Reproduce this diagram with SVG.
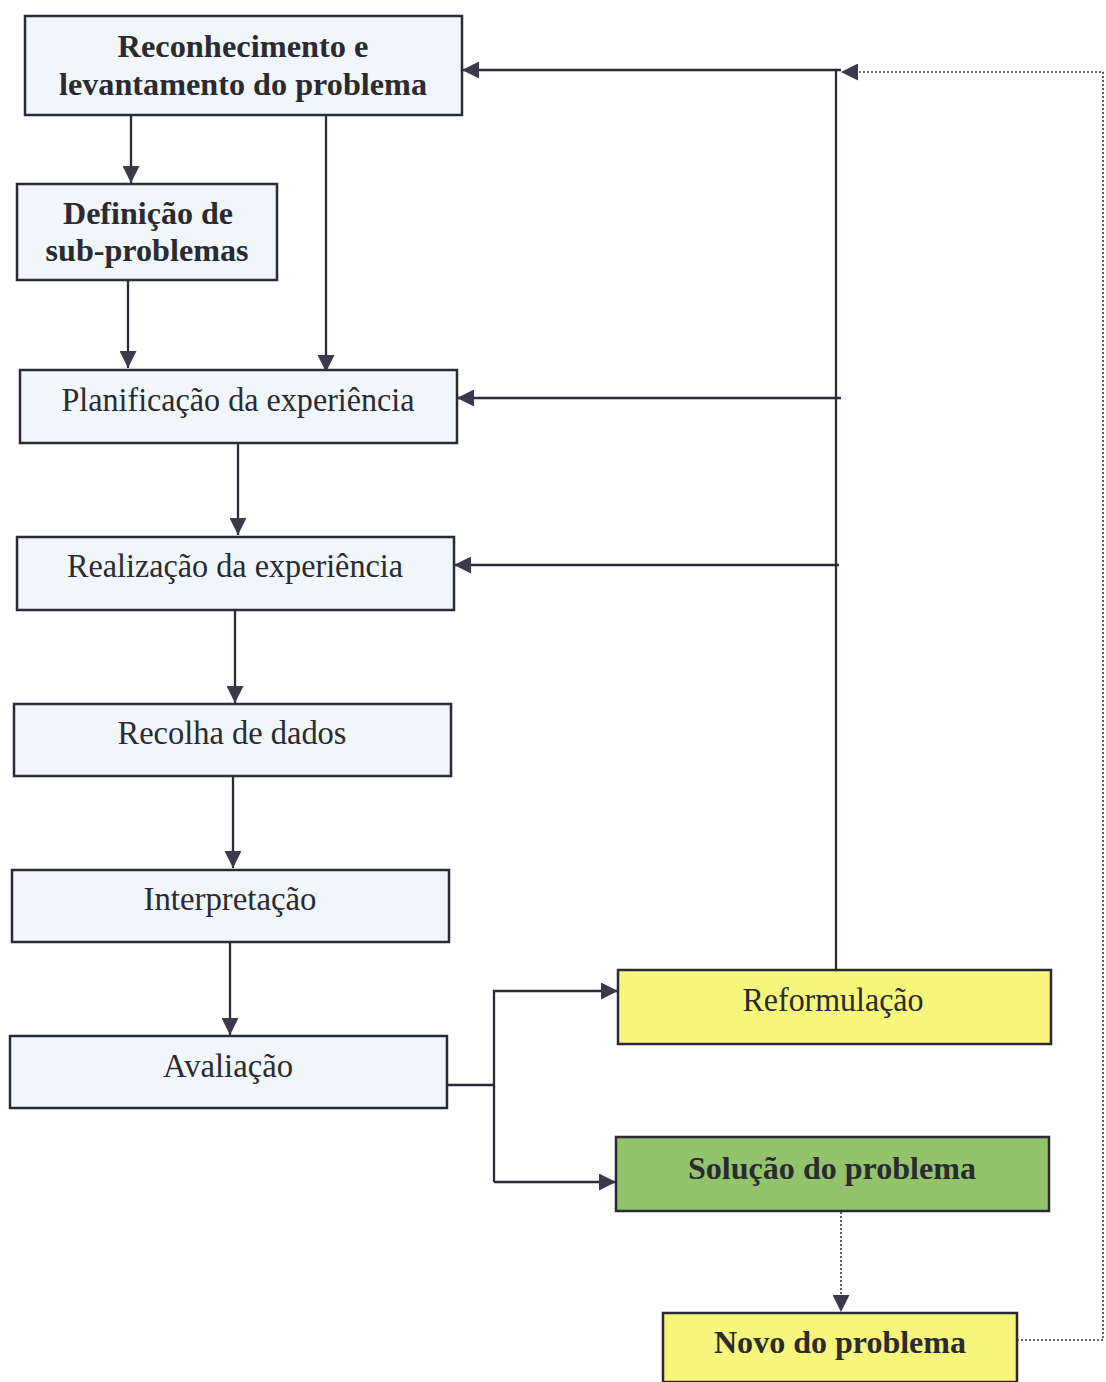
<svg xmlns="http://www.w3.org/2000/svg" width="1106" height="1382" viewBox="0 0 1106 1382">
<style>
.box{fill:#f0f6fa;stroke:#2b2b38;stroke-width:2.5}
.yel{fill:#f6f57c;stroke:#2b2b38;stroke-width:2.5}
.grn{fill:#93c46c;stroke:#2b2b38;stroke-width:2.5}
.t{font-family:"Liberation Serif","Times New Roman",serif;font-size:33px;fill:#2a2a30;text-anchor:middle}
.b{font-weight:bold;font-size:31px}
.ln{fill:none;stroke:#2b2b38;stroke-width:2.3}
.dot{fill:none;stroke:#3a3a48;stroke-width:1.6;stroke-dasharray:2 2}
</style>
<defs>
<marker id="ah" viewBox="0 0 10 10" refX="10" refY="5" markerWidth="17" markerHeight="17" markerUnits="userSpaceOnUse" orient="auto">
<path d="M0,0 L10,5 L0,10 Z" fill="#3c3a4a"/>
</marker>
</defs>
<rect width="1106" height="1382" fill="#ffffff"/>
<g id="connectors">
<path class="ln" d="M131,115 V183" marker-end="url(#ah)"/>
<path class="ln" d="M326,115 V372" marker-end="url(#ah)"/>
<path class="ln" d="M128,280 V368" marker-end="url(#ah)"/>
<path class="ln" d="M238,443 V535" marker-end="url(#ah)"/>
<path class="ln" d="M235,610 V703" marker-end="url(#ah)"/>
<path class="ln" d="M233,776 V868" marker-end="url(#ah)"/>
<path class="ln" d="M230,942 V1035" marker-end="url(#ah)"/>
<path class="ln" d="M447,1085 H494"/>
<path class="ln" d="M494,1182 V991 H618" marker-end="url(#ah)"/>
<path class="ln" d="M494,1182 H616" marker-end="url(#ah)"/>
<path class="ln" d="M836,969 V70"/>
<path class="ln" d="M841,70 H462" marker-end="url(#ah)"/>
<path class="ln" d="M841,398 H457" marker-end="url(#ah)"/>
<path class="ln" d="M839,565 H454" marker-end="url(#ah)"/>
<path class="dot" d="M841,1212 V1312" marker-end="url(#ah)"/>
<path class="dot" d="M1017,1340 H1103 V72 H841" marker-end="url(#ah)"/>
</g>
<g id="n1"><rect class="box" x="25" y="16" width="437" height="99"/>
<text class="t b" x="243" y="57" textLength="251" lengthAdjust="spacingAndGlyphs">Reconhecimento e</text>
<text class="t b" x="243" y="95" textLength="368" lengthAdjust="spacingAndGlyphs">levantamento do problema</text></g>
<g id="n2"><rect class="box" x="17" y="184" width="260" height="96"/>
<text class="t b" x="148" y="224" textLength="170" lengthAdjust="spacingAndGlyphs">Definição de</text>
<text class="t b" x="147" y="261" textLength="203" lengthAdjust="spacingAndGlyphs">sub-problemas</text></g>
<g id="n3"><rect class="box" x="20" y="370" width="437" height="73"/>
<text class="t" x="238" y="411" textLength="353" lengthAdjust="spacingAndGlyphs">Planificação da experiência</text></g>
<g id="n4"><rect class="box" x="17" y="537" width="437" height="73"/>
<text class="t" x="235" y="577" textLength="336" lengthAdjust="spacingAndGlyphs">Realização da experiência</text></g>
<g id="n5"><rect class="box" x="14" y="704" width="437" height="72"/>
<text class="t" x="232" y="744" textLength="229" lengthAdjust="spacingAndGlyphs">Recolha de dados</text></g>
<g id="n6"><rect class="box" x="12" y="870" width="437" height="72"/>
<text class="t" x="230" y="910" textLength="173" lengthAdjust="spacingAndGlyphs">Interpretação</text></g>
<g id="n7"><rect class="box" x="10" y="1036" width="437" height="72"/>
<text class="t" x="228" y="1077" textLength="130" lengthAdjust="spacingAndGlyphs">Avaliação</text></g>
<g id="n8"><rect class="yel" x="618" y="970" width="433" height="74"/>
<text class="t" x="833" y="1011" textLength="181" lengthAdjust="spacingAndGlyphs">Reformulação</text></g>
<g id="n9"><rect class="grn" x="616" y="1137" width="433" height="74"/>
<text class="t b" x="832" y="1179" textLength="288" lengthAdjust="spacingAndGlyphs">Solução do problema</text></g>
<g id="n10"><rect class="yel" x="663" y="1313" width="354" height="69"/>
<text class="t b" x="840" y="1353" textLength="252" lengthAdjust="spacingAndGlyphs">Novo do problema</text></g>
</svg>
